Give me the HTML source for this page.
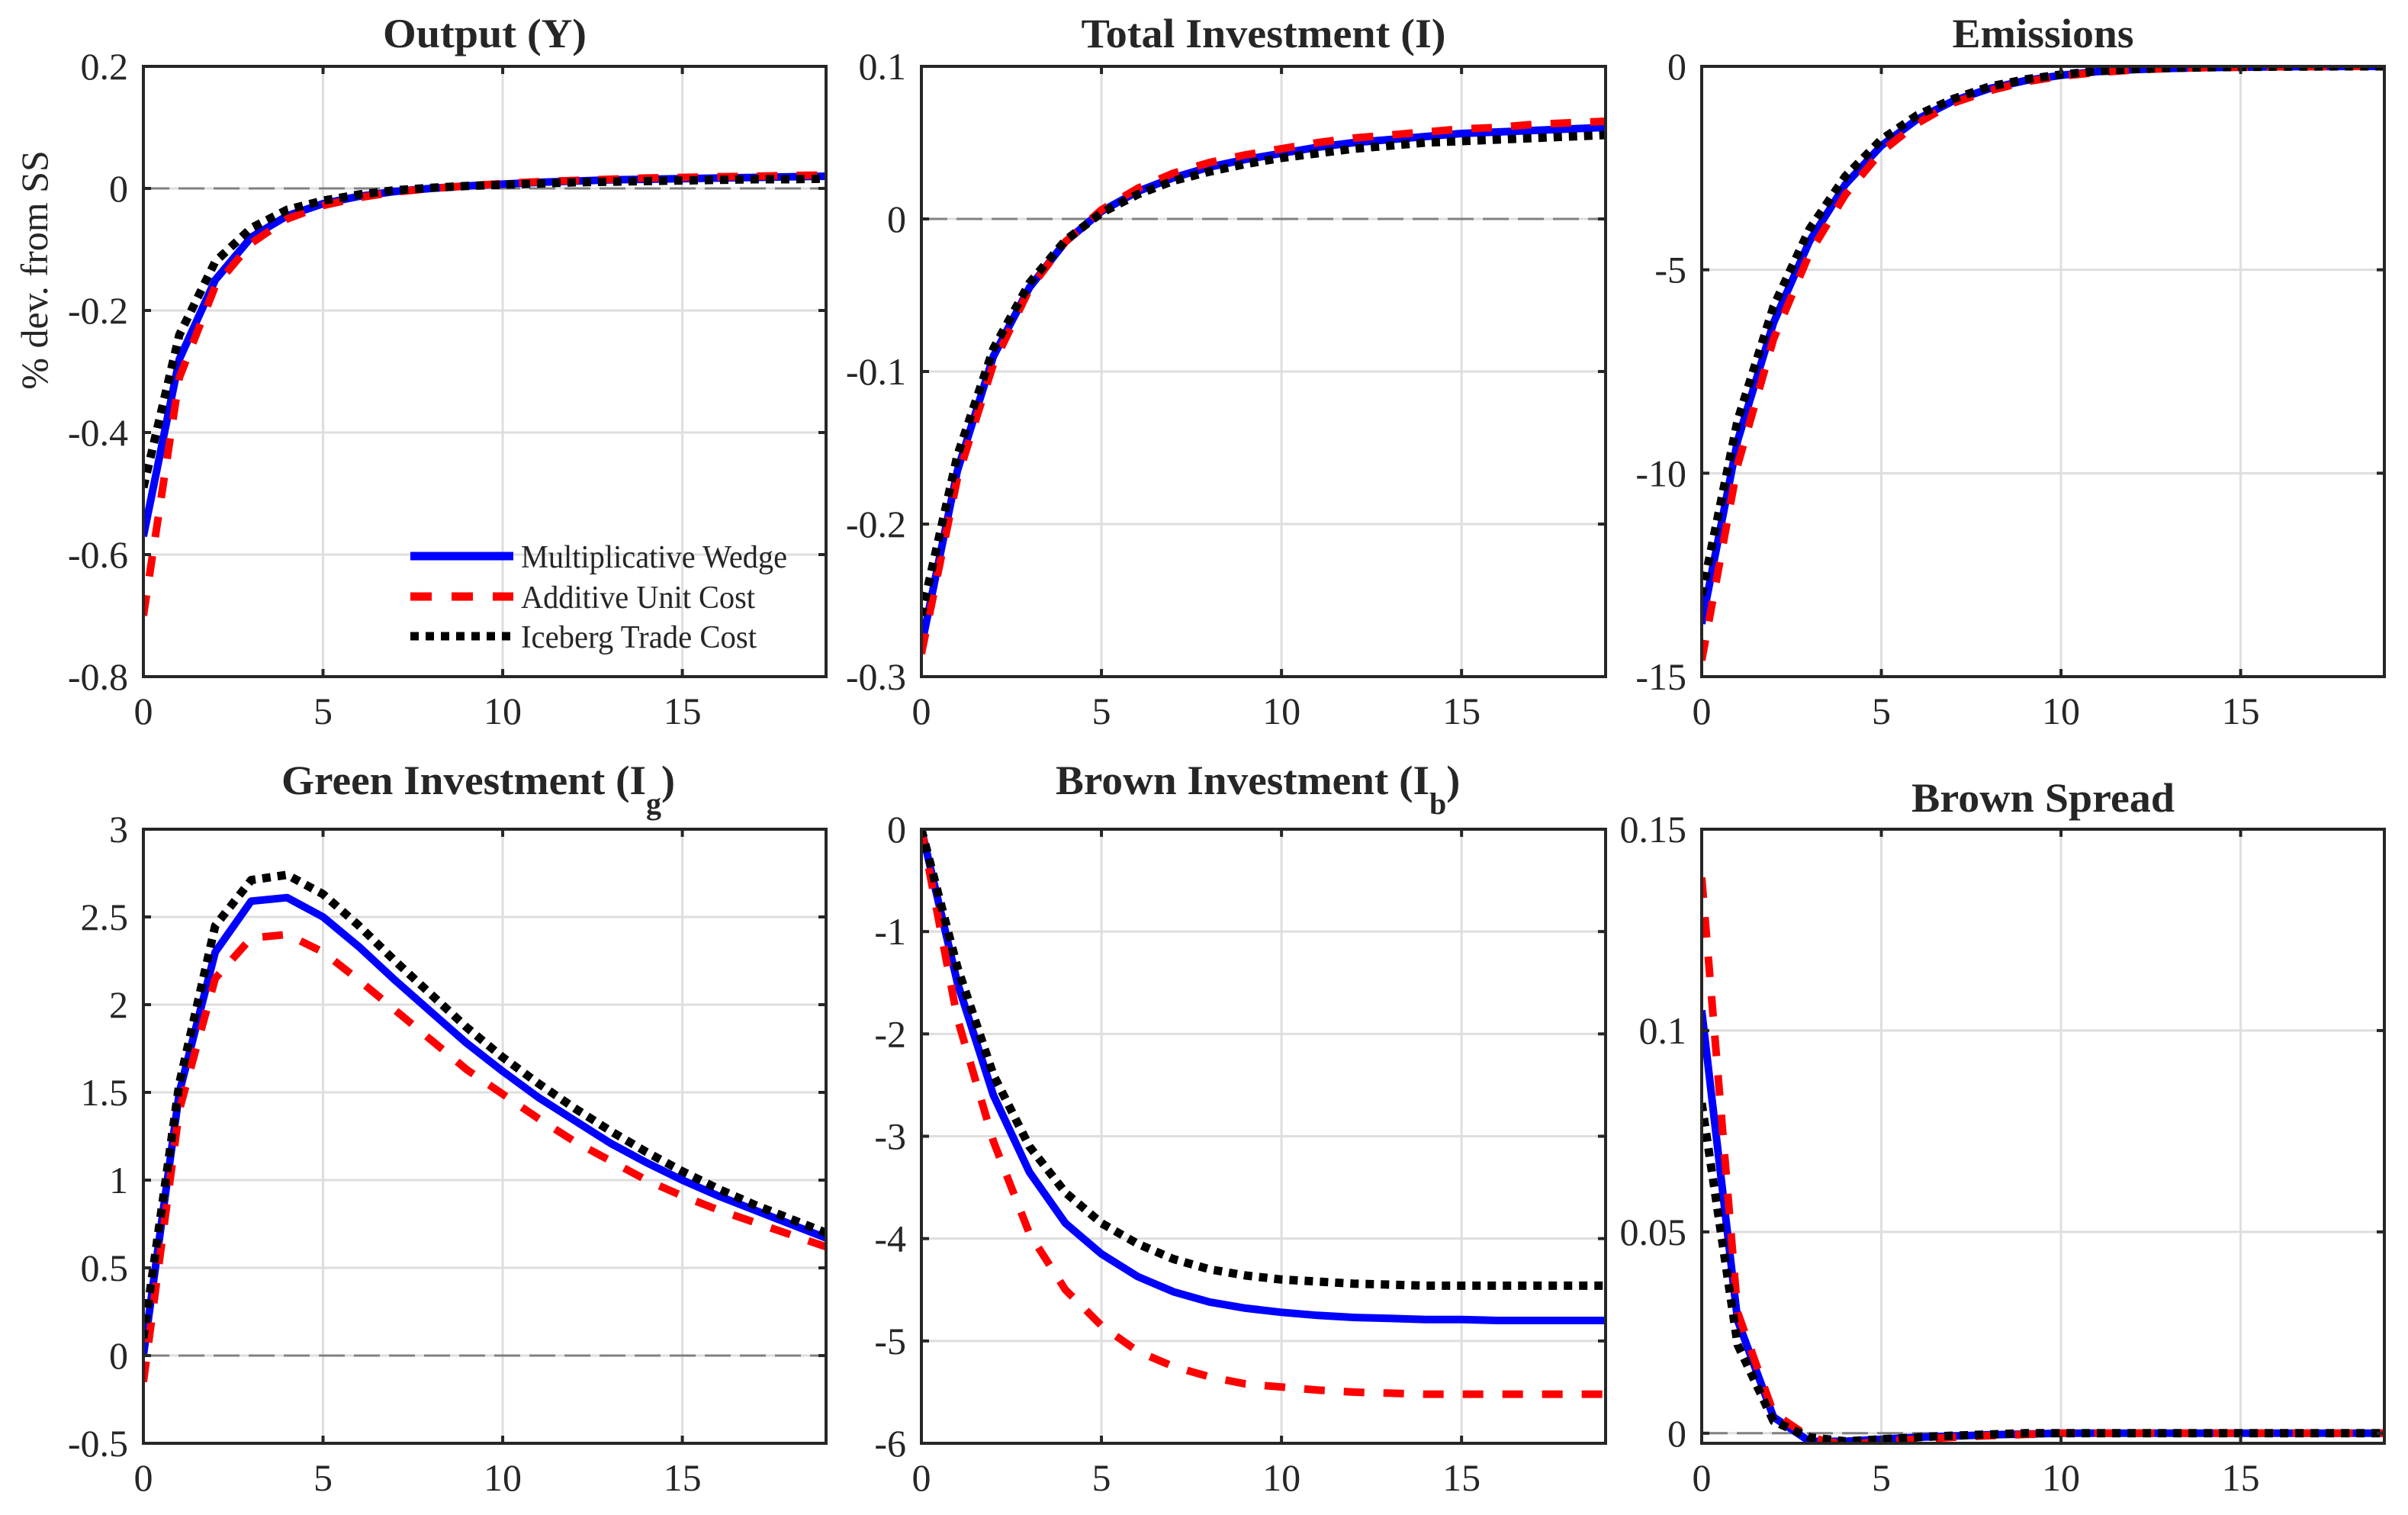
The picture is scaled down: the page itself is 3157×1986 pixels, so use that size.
<!DOCTYPE html>
<html><head><meta charset="utf-8">
<style>
html,body{margin:0;padding:0;background:#fff;}
svg{display:block;}
text{font-family:"Liberation Serif","Times New Roman",serif;fill:#262626;}
</style></head>
<body>
<svg id="fig" width="3157" height="1986" viewBox="0 0 3157 1986" xmlns="http://www.w3.org/2000/svg"></svg>
<script>
// ---- data ----
const periods = [0,1,2,3,4,5,6,7,8,9,10,11,12,13,14,15,16,17,18,19];

const outMult = [-0.57,-0.28,-0.15,-0.08,-0.045,-0.025,-0.013,-0.005,0,0.004,0.007,0.01,0.012,0.014,0.015,0.016,0.017,0.018,0.019,0.02];
const outAdd  = [-0.70,-0.31,-0.16,-0.09,-0.05,-0.028,-0.015,-0.006,0,0.004,0.008,0.011,0.013,0.015,0.017,0.018,0.019,0.02,0.021,0.022];
const outIce  = [-0.49,-0.24,-0.12,-0.065,-0.035,-0.02,-0.01,-0.003,0.001,0.004,0.006,0.008,0.01,0.011,0.012,0.013,0.014,0.015,0.015,0.016];

const invMult = [-0.28,-0.165,-0.09,-0.045,-0.015,0.005,0.018,0.027,0.034,0.039,0.043,0.047,0.05,0.052,0.054,0.056,0.057,0.058,0.059,0.06];
const invAdd  = [-0.285,-0.17,-0.095,-0.046,-0.015,0.006,0.02,0.03,0.037,0.042,0.046,0.05,0.053,0.055,0.057,0.059,0.06,0.062,0.063,0.064];
const invIce  = [-0.26,-0.155,-0.085,-0.042,-0.014,0.004,0.016,0.025,0.031,0.036,0.04,0.043,0.046,0.048,0.05,0.051,0.052,0.053,0.054,0.055];

const emiMult = [-13.7,-9.2,-6.3,-4.3,-2.9,-1.95,-1.3,-0.85,-0.55,-0.35,-0.22,-0.13,-0.08,-0.05,-0.03,-0.02,-0.01,-0.005,0,0];
const emiAdd  = [-14.6,-9.8,-6.7,-4.6,-3.15,-2.1,-1.4,-0.9,-0.6,-0.38,-0.24,-0.15,-0.09,-0.05,-0.03,-0.02,-0.01,-0.005,0,0];
const emiIce  = [-13.0,-8.7,-5.9,-4.0,-2.7,-1.8,-1.2,-0.8,-0.5,-0.32,-0.2,-0.12,-0.07,-0.04,-0.025,-0.015,-0.008,-0.004,0,0];

const grnMult = [0.0,1.5,2.3,2.59,2.61,2.5,2.33,2.14,1.96,1.78,1.62,1.47,1.34,1.21,1.1,1.0,0.91,0.83,0.75,0.67];
const grnAdd  = [-0.15,1.4,2.15,2.38,2.4,2.3,2.14,1.97,1.8,1.63,1.49,1.35,1.22,1.11,1.0,0.91,0.83,0.76,0.69,0.62];
const grnIce  = [0.1,1.55,2.45,2.71,2.74,2.63,2.45,2.25,2.06,1.87,1.7,1.55,1.41,1.28,1.16,1.05,0.95,0.86,0.78,0.7];

const brnMult = [0,-1.5,-2.6,-3.35,-3.85,-4.15,-4.37,-4.52,-4.62,-4.68,-4.72,-4.75,-4.77,-4.78,-4.79,-4.79,-4.8,-4.8,-4.8,-4.8];
const brnAdd  = [0,-1.85,-3.05,-3.95,-4.5,-4.85,-5.1,-5.25,-5.35,-5.42,-5.45,-5.48,-5.5,-5.51,-5.52,-5.52,-5.52,-5.52,-5.52,-5.52];
const brnIce  = [0,-1.35,-2.4,-3.1,-3.55,-3.85,-4.05,-4.2,-4.3,-4.36,-4.4,-4.42,-4.44,-4.45,-4.46,-4.46,-4.46,-4.46,-4.46,-4.46];

const sprMult = [0.105,0.028,0.004,-0.002,-0.002,-0.0015,-0.001,-0.0007,-0.0004,-0.0002,0,0,0,0,0,0,0,0,0,0];
const sprAdd  = [0.138,0.03,0.005,-0.001,-0.003,-0.002,-0.0015,-0.001,-0.0006,-0.0003,0,0,0,0,0,0,0,0,0,0];
const sprIce  = [0.082,0.022,0.003,-0.001,-0.002,-0.0015,-0.001,-0.0006,-0.0003,0,0,0,0,0,0,0,0,0,0,0];

const xTicks = [0,5,10,15];
const yTicksOut = [0.2,0,-0.2,-0.4,-0.6,-0.8];
const yLabelsOut = ["0.2","0","-0.2","-0.4","-0.6","-0.8"];
const yTicksInv = [0.1,0,-0.1,-0.2,-0.3];
const yLabelsInv = ["0.1","0","-0.1","-0.2","-0.3"];
const yTicksEmi = [0,-5,-10,-15];
const yLabelsEmi = ["0","-5","-10","-15"];
const yTicksGrn = [3,2.5,2,1.5,1,0.5,0,-0.5];
const yLabelsGrn = ["3","2.5","2","1.5","1","0.5","0","-0.5"];
const yTicksBrn = [0,-1,-2,-3,-4,-5,-6];
const yLabelsBrn = ["0","-1","-2","-3","-4","-5","-6"];
const yTicksSpr = [0.15,0.1,0.05,0];
const yLabelsSpr = ["0.15","0.1","0.05","0"];

const NS = "http://www.w3.org/2000/svg";
const svg = document.getElementById("fig");
function mk(tag, attrs, parent){
  const e = document.createElementNS(NS, tag);
  for (const k in attrs) e.setAttribute(k, attrs[k]);
  (parent||svg).appendChild(e);
  return e;
}

const panels = [
  {id:"output", title:"Output (Y)", sub:null, tl:267, box:[188,87,1083,887], y:[-0.8,0.2], yt:yTicksOut, yl:yLabelsOut, s:[outMult,outAdd,outIce], tb:62},
  {id:"total-investment", title:"Total Investment (I)", sub:null, tl:478, box:[1208,87,2105,887], y:[-0.3,0.1], yt:yTicksInv, yl:yLabelsInv, s:[invMult,invAdd,invIce], tb:62},
  {id:"emissions", title:"Emissions", sub:null, tl:238, box:[2231,87,3126,887], y:[-15,0], yt:yTicksEmi, yl:yLabelsEmi, s:[emiMult,emiAdd,emiIce], tb:62},
  {id:"green-investment", title:"Green Investment (I", sub:"g", tl:533, box:[188,1087,1083,1892], y:[-0.5,3], yt:yTicksGrn, yl:yLabelsGrn, s:[grnMult,grnAdd,grnIce], tb:1041},
  {id:"brown-investment", title:"Brown Investment (I", sub:"b", tl:545, box:[1208,1087,2105,1892], y:[-6,0], yt:yTicksBrn, yl:yLabelsBrn, s:[brnMult,brnAdd,brnIce], tb:1041},
  {id:"brown-spread", title:"Brown Spread", sub:null, tl:345, box:[2231,1087,3126,1892], y:[-0.0025,0.15], yt:yTicksSpr, yl:yLabelsSpr, s:[sprMult,sprAdd,sprIce], tb:1064}
];
const styles = [
  {name:"multiplicative-wedge", color:"#0000ff", dash:null},
  {name:"additive-unit-cost", color:"#ff0000", dash:"27 25"},
  {name:"iceberg-trade-cost", color:"#000000", dash:"11 9"}
];

const defs = mk("defs", {});
panels.forEach((p, pi) => {
  const [x0,y0,x1,y1] = p.box;
  const xs = v => x0 + (v - 0) / 19 * (x1 - x0);
  const ys = v => y1 - (v - p.y[0]) / (p.y[1] - p.y[0]) * (y1 - y0);
  const g = mk("g", {});
  
  
  const cp = mk("clipPath", {id:"clip"+pi}, defs);
  mk("rect", {x:x0, y:y0, width:x1-x0, height:y1-y0}, cp);
  xTicks.forEach(t => {
    const l = mk("line", {x1:xs(t), x2:xs(t), y1:y0, y2:y1, stroke:"#dedede", "stroke-width":3}, g);
    
    
  });
  p.yt.forEach(t => {
    const l = mk("line", {x1:x0, x2:x1, y1:ys(t), y2:ys(t), stroke:"#dedede", "stroke-width":3}, g);
    
    
  });
  const z = mk("line", {x1:x0, x2:x1, y1:ys(0), y2:ys(0), stroke:"#808080", "stroke-width":3, "stroke-dasharray":"34 12"}, g);
  
  
  const sg = mk("g", {"clip-path":"url(#clip"+pi+")"}, g);
  p.s.forEach((arr, si) => {
    const st = styles[si];
    const d = arr.map((v,i) => (i?"L":"M") + xs(periods[i]).toFixed(1) + "," + ys(v).toFixed(1)).join(" ");
    const a = {d:d, fill:"none", stroke:st.color, "stroke-width": si===2?11:10, "stroke-linejoin":"round"};
    if (st.dash) a["stroke-dasharray"] = st.dash;
    const path = mk("path", a, sg);
    
    
  });
  const bx = mk("rect", {x:x0, y:y0, width:x1-x0, height:y1-y0, fill:"none", stroke:"#262626", "stroke-width":4}, g);
  
  
  xTicks.forEach(t => {
    mk("line", {x1:xs(t), x2:xs(t), y1:y1, y2:y1-10, stroke:"#262626", "stroke-width":4}, g);
    mk("line", {x1:xs(t), x2:xs(t), y1:y0, y2:y0+10, stroke:"#262626", "stroke-width":4}, g);
    const tx = mk("text", {x:xs(t), y:y1+62, "font-size":50, "text-anchor":"middle"}, g);
    tx.textContent = String(t);
    
    
  });
  p.yt.forEach((t, i) => {
    mk("line", {x1:x0, x2:x0+10, y1:ys(t), y2:ys(t), stroke:"#262626", "stroke-width":4}, g);
    mk("line", {x1:x1, x2:x1-10, y1:ys(t), y2:ys(t), stroke:"#262626", "stroke-width":4}, g);
    const tx = mk("text", {x:x0-20, y:ys(t)+17, "font-size":50, "text-anchor":"end"}, g);
    tx.textContent = p.yl[i];
    
    
  });
  const cx = (x0 + x1) / 2;
  const tt = mk("text", {x:cx - p.tl/2, y:p.tb, "font-size":54, "font-weight":"bold", fill:"#000"}, g);
  
  
  if (p.sub) {
    const m = mk("tspan", {textLength:p.tl - 55, lengthAdjust:"spacingAndGlyphs"}, tt);
    m.textContent = p.title;
    const s = mk("tspan", {dy:26, "font-size":40}, tt);
    s.textContent = p.sub;
    const c = mk("tspan", {dy:-26}, tt);
    c.textContent = ")";
  } else {
    tt.setAttribute("textLength", p.tl);
    tt.setAttribute("lengthAdjust", "spacingAndGlyphs");
    tt.textContent = p.title;
  }
});

const yl = mk("text", {x:0, y:0, transform:"translate(62,354) rotate(-90)", "font-size":50, "text-anchor":"middle"});
yl.textContent = "% dev. from SS";



const legY = [729, 782, 834];
const legLabels = ["Multiplicative Wedge", "Additive Unit Cost", "Iceberg Trade Cost"];
const legLens = [349, 307, 309];
styles.forEach((st, i) => {
  const g = mk("g", {});
  
  
  const a = {x1:538, x2:673, y1:legY[i], y2:legY[i], stroke:st.color, "stroke-width":11};
  if (st.dash) a["stroke-dasharray"] = i===1 ? "28 26" : "11 9";
  mk("line", a, g);
  const t = mk("text", {x:683, y:legY[i]+15, "font-size":42, fill:"#000", textLength:legLens[i], lengthAdjust:"spacingAndGlyphs"}, g);
  t.textContent = legLabels[i];
});
</script>
</body></html>
